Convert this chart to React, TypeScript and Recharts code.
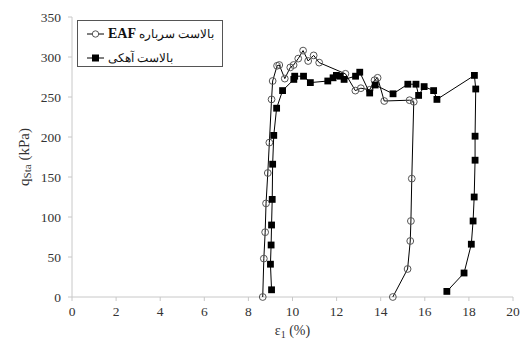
import { ScatterChart, Scatter, XAxis, YAxis, Label } from 'recharts'

// Plate-load test: settlement strain vs. static bearing pressure for two ballasts.
const eafStrain = [
  8.65, 8.7, 8.76, 8.8, 8.88, 8.95, 9.05, 9.1, 9.3, 9.4, 9.65, 9.9, 10.05, 10.26, 10.48,
  10.71, 10.96, 11.21, 12.4, 12.85, 13.1, 13.5, 13.72, 13.86, 14.16, 15.31, 15.5, 15.41,
  15.37, 15.34, 15.22, 14.55,
]
const eafStress = [
  0, 48, 81, 117, 155, 193, 247, 270, 289, 290, 273, 287, 290, 298, 308, 295, 302, 293,
  279, 258, 261, 259, 271, 274, 245, 246, 244, 148, 95, 70, 35, 0,
]

const limeStrain = [
  9.05, 9.0, 9.03, 9.05, 9.08, 9.1, 9.15, 9.28, 9.55, 10.06, 10.1, 10.5, 10.81, 11.6, 11.84,
  11.99, 12.17, 12.34, 12.86, 13.05, 13.5, 13.75, 14.56, 15.23, 15.6, 15.72, 15.97, 16.4,
  16.55, 18.25, 18.31, 18.28, 18.28, 18.24, 18.19, 18.11, 17.78, 17.0,
]
const limeStress = [
  9, 41, 65, 90, 122, 166, 202, 236, 258, 272, 276, 276, 268, 270, 274, 277, 276, 272, 276,
  281, 255, 265, 254, 266, 266, 252, 263, 258, 247, 277, 260, 201, 171, 125, 95, 66, 30, 7,
]

const xTicks = [0, 2, 4, 6, 8, 10, 12, 14, 16, 18, 20]
const yTicks = [0, 50, 100, 150, 200, 250, 300, 350]

const eafLabel = 'بالاست سرباره'
const limeLabel = 'بالاست آهکی'

const zip = (xs: number[], ys: number[]) => xs.map((x, i) => ({ x, y: ys[i] }))
const eafData = zip(eafStrain, eafStress)
const limeData = zip(limeStrain, limeStress)

const FONT = '"Liberation Serif", "Times New Roman", serif'
const AXIS = '#c8c8c8'
const TEXT = '#333'

const OpenCircle = (p: any) => (
  <circle cx={p.cx} cy={p.cy} r={3.4} fill="none" stroke="#555" strokeWidth={1} />
)
const FilledSquare = (p: any) => (
  <rect x={p.cx - 3.4} y={p.cy - 3.4} width={6.8} height={6.8} fill="#000" />
)

// plot spans y 17..297, so the title sits on its middle
const YTitle = () => {
  const cx = 24
  const cy = 157
  return (
    <text
      x={cx}
      y={cy}
      transform={`rotate(-90 ${cx} ${cy})`}
      textAnchor="middle"
      dominantBaseline="central"
      fontFamily={FONT}
      fontSize={15}
      fill={TEXT}
    >
      q<tspan fontSize={11} dy={3}>Sta</tspan>
      <tspan dy={-3}> (kPa)</tspan>
    </text>
  )
}

const XTitle = ({ viewBox }: any) => {
  const cx = viewBox.x + viewBox.width / 2
  return (
    <text x={cx} y={335} textAnchor="middle" fontFamily={FONT} fontSize={14} fill={TEXT}>
      ε<tspan fontSize={10} dy={3}>1</tspan>
      <tspan dy={-3}> (%)</tspan>
    </text>
  )
}

const LegendMarker = ({ square }: { square?: boolean }) => (
  <svg width={17} height={10} style={{ display: 'block', flex: 'none' }}>
    <line x1={0} y1={5} x2={17} y2={5} stroke="#000" strokeWidth={1} />
    {square ? (
      <rect x={5} y={1.5} width={7} height={7} fill="#000" />
    ) : (
      <circle cx={8.5} cy={5} r={3.2} fill="#fff" stroke="#555" />
    )}
  </svg>
)

const rowStyle: React.CSSProperties = {
  position: 'absolute',
  left: 9,
  height: 18,
  display: 'flex',
  alignItems: 'center',
  gap: 4,
  fontFamily: FONT,
  fontSize: 12,
  color: '#111',
  whiteSpace: 'nowrap',
}

export default function App() {
  return (
    <div style={{ position: 'relative', width: 529, height: 341, margin: '-8px 0 0 -8px', background: '#fff' }}>
      <ScatterChart width={529} height={341} margin={{ top: 17, right: 16, bottom: 0, left: 0 }}>
        <XAxis
          type="number"
          dataKey="x"
          domain={[0, 20]}
          ticks={xTicks}
          interval={0}
          height={44}
          stroke={AXIS}
          tickSize={4}
          tickMargin={5}
          tick={{ fill: TEXT, fontSize: 13.5, fontFamily: FONT }}
        >
          <Label content={XTitle} />
        </XAxis>
        <YAxis
          type="number"
          dataKey="y"
          domain={[0, 350]}
          ticks={yTicks}
          interval={0}
          width={72}
          stroke={AXIS}
          tickSize={4}
          tickMargin={7}
          tick={{ fill: TEXT, fontSize: 13.5, fontFamily: FONT }}
        >
          <Label content={YTitle} />
        </YAxis>
        <Scatter
          data={eafData}
          line={{ stroke: '#000', strokeWidth: 1 }}
          shape={OpenCircle}
          isAnimationActive={false}
        />
        <Scatter
          data={limeData}
          line={{ stroke: '#000', strokeWidth: 1 }}
          shape={FilledSquare}
          isAnimationActive={false}
        />
      </ScatterChart>
      <div
        style={{
          position: 'absolute',
          left: 77,
          top: 20,
          width: 144,
          height: 45,
          border: '1px solid #555',
          background: '#fff',
        }}
      >
        <div style={{ ...rowStyle, top: 4 }}>
          <LegendMarker />
          <span dir="rtl">
            {eafLabel} <b style={{ fontSize: 14 }}>EAF</b>
          </span>
        </div>
        <div style={{ ...rowStyle, top: 28 }}>
          <LegendMarker square />
          <span dir="rtl">{limeLabel}</span>
        </div>
      </div>
    </div>
  )
}
